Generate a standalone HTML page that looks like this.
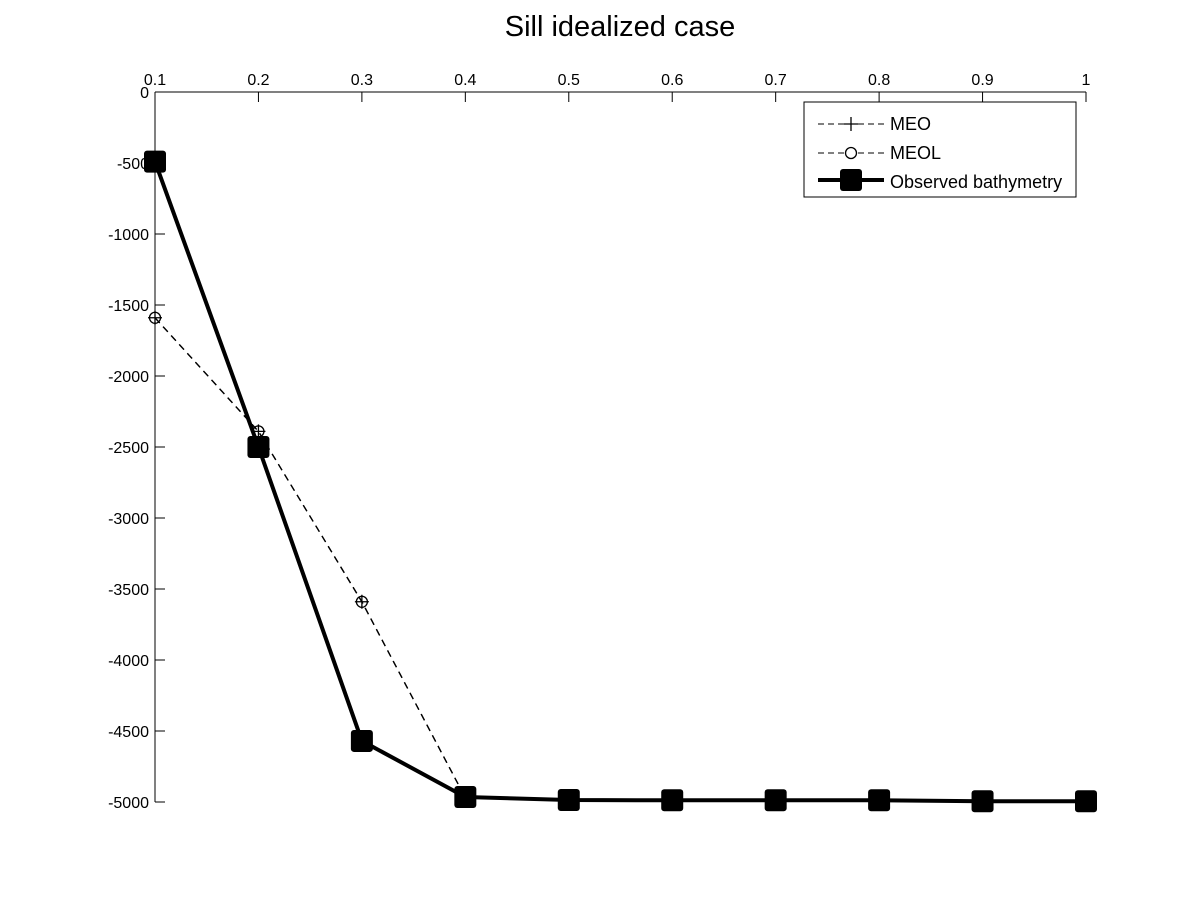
<!DOCTYPE html>
<html><head><meta charset="utf-8"><style>
body{margin:0;background:#fff;}
svg{display:block;font-family:"Liberation Sans",sans-serif;}
</style></head><body>
<svg id="chart" width="1200" height="901">
<text x="620" y="36" font-size="29" text-anchor="middle">Sill idealized case</text>
<g id="axes"></g>
<g id="series"></g>
<g id="legend">
<rect x="804" y="102" width="272" height="95" fill="#fff" stroke="#000" stroke-width="1"/>
<line x1="818" y1="124" x2="884" y2="124" stroke="#000" stroke-dasharray="6,4"/>
<path d="M844 124h14M851 117v14" stroke="#000" stroke-width="1.3"/>
<text x="890" y="130" font-size="18">MEO</text>
<line x1="818" y1="153" x2="884" y2="153" stroke="#000" stroke-dasharray="6,4"/>
<circle cx="851" cy="153" r="5.5" fill="#fff" stroke="#000" stroke-width="1.3"/>
<text x="890" y="159" font-size="18">MEOL</text>
<line x1="818" y1="180" x2="884" y2="180" stroke="#000" stroke-width="4"/>
<rect x="840" y="169" width="22" height="22" rx="3" fill="#000"/>
<text x="890" y="188" font-size="18">Observed bathymetry</text>
</g>
</svg>
<script>
const xs=[0.1,0.2,0.3,0.4,0.5,0.6,0.7,0.8,0.9,1.0];
const meo=[-1590,-2390,-3590,-4970,-4985,-4990,-4990,-4990,-4995,-4995];
const meol=[-1590,-2390,-3590,-4970,-4985,-4990,-4990,-4990,-4995,-4995];
const observed=[-490,-2500,-4570,-4965,-4986,-4988,-4988,-4988,-4995,-4995];
const xTicks=[0.1,0.2,0.3,0.4,0.5,0.6,0.7,0.8,0.9,1];
const xTickLabels=["0.1","0.2","0.3","0.4","0.5","0.6","0.7","0.8","0.9","1"];
const yTicks=[0,-500,-1000,-1500,-2000,-2500,-3000,-3500,-4000,-4500,-5000];
const NS="http://www.w3.org/2000/svg";
const X=v=>155+(v-0.1)/0.9*931;
const Y=v=>92+(-v)/5000*710;
function mk(t,a,p){const e=document.createElementNS(NS,t);for(const k in a)e.setAttribute(k,a[k]);p.appendChild(e);return e;}
const ax=document.getElementById('axes');
mk('line',{x1:155,y1:92,x2:1086,y2:92,stroke:'#000'},ax);
mk('line',{x1:155,y1:92,x2:155,y2:802,stroke:'#000'},ax);
xTicks.forEach((v,i)=>{
 const l=mk('line',{x1:X(v),y1:92,x2:X(v),y2:102,stroke:'#000'},ax);
 
 
 const t=mk('text',{x:X(v),y:85,'font-size':16,'text-anchor':'middle'},ax);
 t.textContent=xTickLabels[i];
 
 
});
yTicks.forEach(v=>{
 const l=mk('line',{x1:155,y1:Y(v),x2:165,y2:Y(v),stroke:'#000'},ax);
 
 
 const t=mk('text',{x:149,y:Y(v)+6,'font-size':16,'text-anchor':'end'},ax);
 t.textContent=String(v);
 
 
});
const sg=document.getElementById('series');
function pts(a){return xs.map((x,i)=>X(x)+','+Y(a[i])).join(' ');}
const l1=mk('polyline',{points:pts(meo),fill:'none',stroke:'#000','stroke-width':1.3,'stroke-dasharray':'7,5'},sg);


const l2=mk('polyline',{points:pts(meol),fill:'none',stroke:'#000','stroke-width':1.3,'stroke-dasharray':'7,5'},sg);


xs.forEach((x,i)=>{
 const p=mk('path',{d:`M${X(x)-7} ${Y(meo[i])}h14M${X(x)} ${Y(meo[i])-7}v14`,stroke:'#000','stroke-width':1.3},sg);
 
 
 const c=mk('circle',{cx:X(x),cy:Y(meol[i]),r:5.5,fill:'none',stroke:'#000','stroke-width':1.3},sg);
 
 
});
const l3=mk('polyline',{points:pts(observed),fill:'none',stroke:'#000','stroke-width':4},sg);


xs.forEach((x,i)=>{
 const r=mk('rect',{x:X(x)-11,y:Y(observed[i])-11,width:22,height:22,rx:3,fill:'#000'},sg);
 
 
});
</script>
</body></html>
